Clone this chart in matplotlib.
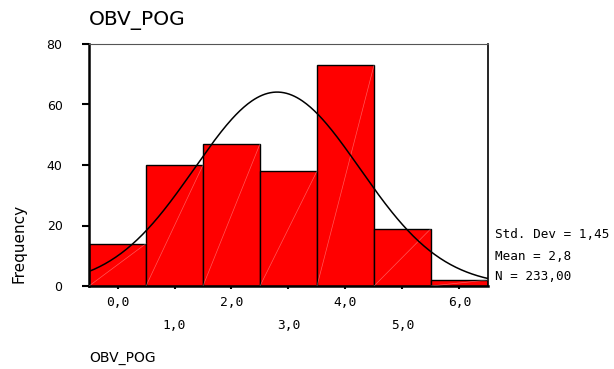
import numpy as np
import matplotlib
matplotlib.use("Agg")
import matplotlib.pyplot as plt

# histogram of OBV_POG, bins centred on the integers
bin_centers = [0, 1, 2, 3, 4, 5, 6]
counts = [14, 40, 47, 38, 73, 19, 2]
tick_labels = ["0,0", "1,0", "2,0", "3,0", "4,0", "5,0", "6,0"]
std_dev = 1.45
mean = 2.8
n_total = 233

fig = plt.figure(figsize=(6.14, 3.69), dpi=100)
ax = fig.add_axes([89 / 614, 83 / 369, 399 / 614, 242 / 369])

ax.bar(bin_centers, counts, width=1.0, color="#ff0000", edgecolor="black", linewidth=1.0, zorder=2)
# faint diagonal streak that SPSS leaves in each bar
for c, h in zip(bin_centers, counts):
    ax.plot([c - 0.5, c + 0.5], [0, h], color="white", alpha=0.35, linewidth=0.5, zorder=3)

# fitted normal curve
xs = np.linspace(-0.5, 6.5, 300)
ys = n_total * np.exp(-0.5 * ((xs - mean) / std_dev) ** 2) / (std_dev * np.sqrt(2 * np.pi))
ax.plot(xs, ys, color="black", linewidth=1.1, zorder=4)

ax.set_xlim(-0.5, 6.5)
ax.set_ylim(0, 80)
ax.set_yticks([0, 20, 40, 60, 80])
ax.set_yticklabels(["0", "20", "40", "60", "80"], fontsize=9, family="DejaVu Sans")
ax.set_xticks(bin_centers)
ax.set_xticklabels([])
ax.tick_params(axis="y", direction="out", length=5, width=1.5, pad=14)
ax.tick_params(axis="x", direction="out", length=2, width=1.5)

for i, (c, lab) in enumerate(zip(bin_centers, tick_labels)):
    off = 0.042 if i % 2 == 0 else 0.135
    ax.text(c, -off, lab, transform=ax.get_xaxis_transform(), ha="center", va="top",
            fontsize=9.3, family="DejaVu Sans Mono")

ax.spines["left"].set_linewidth(1.8)
ax.spines["bottom"].set_linewidth(1.8)
ax.spines["right"].set_linewidth(1.2)
ax.spines["top"].set_linewidth(0.8)
ax.spines["top"].set_color("#555555")

fig.text(89 / 614, 1 - 20 / 369, "OBV_POG", fontsize=14.5, family="DejaVu Sans", va="center", ha="left")
fig.text(89 / 614, 1 - 358 / 369, "OBV_POG", fontsize=10, family="DejaVu Sans", va="center", ha="left")
fig.text(19 / 614, 1 - 243 / 369, "Frequency", fontsize=11, family="DejaVu Sans",
         rotation=90, va="center", ha="center")

stats = ["Std. Dev = 1,45", "Mean = 2,8", "N = 233,00"]
for s, y in zip(stats, [235, 257, 277]):
    fig.text(495 / 614, 1 - y / 369, s, fontsize=9.1, family="DejaVu Sans Mono", va="center", ha="left")

fig.savefig("out.png", dpi=100)
